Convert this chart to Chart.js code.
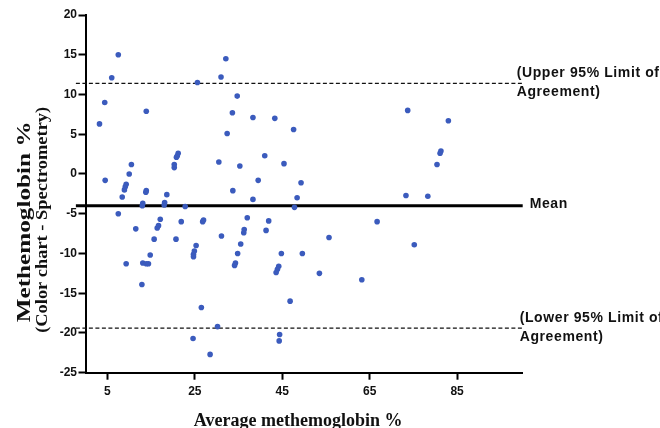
<!DOCTYPE html>
<html><head><meta charset="utf-8">
<script src="https://cdn.jsdelivr.net/npm/chart.js@4"></script>
<style>html,body{margin:0;padding:0;background:#fff}</style>
</head><body>
<canvas id="c" width="660" height="428"></canvas>
<script>
// ---- data ----
const avgMet = [7.5,6.0,25.6,31.0,32.1,4.4,3.2,13.9,34.7,33.6,38.3,43.3,32.4,21.2,21.0,20.8,20.3,20.3,10.5,10.0,
  4.5,9.3,9.1,8.9,8.4,13.9,13.8,18.6,13.1,13.0,18.1,18.0,22.8,7.5,17.1,16.7,16.4,11.5,21.9,26.8,
  27.0,15.7,20.7,25.3,24.9,24.7,24.7,14.8,9.3,13.1,13.9,14.4,12.9,26.5,30.2,24.6,28.5,41.0,30.5,35.3,
  45.4,39.5,49.3,33.7,38.3,48.4,47.8,37.0,41.9,41.3,36.3,36.2,31.1,35.5,34.8,34.3,34.1,44.8,49.6,44.2,
  43.9,43.6,44.4,44.3,47.6,46.8,53.5,55.7,63.2,66.7,73.3,78.3,75.2,73.7,83.0,81.3,81.1,80.4];
const diffMet = [15.0,12.1,11.5,12.2,14.5,9.0,6.3,7.9,9.8,7.7,7.1,7.0,5.1,2.6,2.3,2.1,1.2,0.8,1.2,0.0,
  -0.8,-1.3,-1.6,-2.0,-2.9,-2.1,-2.3,-2.6,-3.7,-4.0,-3.6,-3.9,-4.1,-5.0,-5.7,-6.5,-6.8,-6.9,-6.0,-6.0,
  -5.8,-8.2,-8.2,-9.0,-9.7,-10.1,-10.4,-10.2,-11.3,-11.2,-11.3,-11.3,-13.9,-16.8,-19.2,-20.7,-22.7,2.3,1.5,1.0,
  1.3,-0.8,-1.1,-2.1,-3.2,-3.0,-4.2,-5.5,-5.9,-7.1,-7.0,-7.4,-7.8,-8.8,-10.0,-11.2,-11.5,-10.0,-10.0,-11.6,
  -12.0,-12.4,-20.2,-21.0,5.6,-16.0,-12.5,-8.0,-13.3,-6.0,-2.7,-2.8,-8.9,8.0,6.7,2.9,2.6,1.2];
const meanDiff = -4.0;
const upperLoA = 11.4;
const lowerLoA = -19.4;
const refLineSpan = [-2.2, 100];
const xRange = [0, 100];
const yRange = [-25, 20];
const xTickValues = [5, 25, 45, 65, 85];
const yTickValues = [-25, -20, -15, -10, -5, 0, 5, 10, 15, 20];
const xTitle = 'Average methemoglobin %';
const yTitleLines = ['Methemoglobin %', '(Color chart - Spectrometry)'];
const upperLabel = ['(Upper 95% Limit of', 'Agreement)'];
const lowerLabel = ['(Lower 95% Limit of', 'Agreement)'];
const meanLabel = 'Mean';

// ---- build ----
const points = avgMet.map((v, i) => ({x: v, y: diffMet[i]}));
const hline = v => refLineSpan.map(x => ({x, y: v}));

function stretchedText(ctx, text, cx, cy, font, targetLen) {
  ctx.save();
  ctx.font = font;
  const w = ctx.measureText(text).width;
  ctx.translate(cx, cy);
  ctx.rotate(-Math.PI / 2);
  ctx.scale(targetLen / w, 1);
  ctx.textAlign = 'center';
  ctx.textBaseline = 'middle';
  ctx.fillText(text, 0, 0);
  ctx.restore();
}

const textPlugin = {
  id: 'texts',
  afterDraw(chart) {
    const {ctx, chartArea: a, scales: {y}} = chart;
    ctx.save();
    ctx.fillStyle = '#111';
    ctx.textBaseline = 'middle';
    // limit labels
    ctx.font = 'bold 14px "Liberation Sans", Arial, sans-serif';
    ctx.letterSpacing = '0.6px';
    ctx.textAlign = 'left';
    const yu = y.getPixelForValue(upperLoA);
    ctx.fillText(upperLabel[0], a.right - 6, yu - 10);
    ctx.fillText(upperLabel[1], a.right - 6, yu + 8.5);
    const yl = y.getPixelForValue(lowerLoA);
    ctx.fillText(lowerLabel[0], a.right - 3, yl - 10);
    ctx.fillText(lowerLabel[1], a.right - 3, yl + 9);
    const ym = y.getPixelForValue(meanDiff);
    ctx.fillText(meanLabel, a.right + 7, ym - 2);
    // x title
    ctx.letterSpacing = '0px';
    ctx.textAlign = 'center';
    ctx.font = 'bold 18px "Liberation Serif", "Times New Roman", serif';
    ctx.fillText(xTitle, (a.left + a.right) / 2 - 6, 421);
    // y title (two lines)
    const cy = (a.top + a.bottom) / 2 + 27;
    stretchedText(ctx, yTitleLines[0], 25, cy + 1, 'bold 19px "Liberation Serif", "Times New Roman", serif', 201);
    stretchedText(ctx, yTitleLines[1], 43, cy - 1, 'bold 16px "Liberation Serif", "Times New Roman", serif', 226);
    ctx.restore();
  }
};

const tickFont = {family: '"Liberation Sans", Arial, sans-serif', weight: 'bold', size: 12};

new Chart(document.getElementById('c'), {
  type: 'scatter',
  data: {
    datasets: [
      {data: points, backgroundColor: '#3b5bbd', borderWidth: 0, pointRadius: 2.8, pointHoverRadius: 2.8},
      {type: 'line', data: hline(meanDiff), borderColor: '#000', borderWidth: 3, pointRadius: 0, clip: false, fill: false},
      {type: 'line', data: hline(upperLoA), borderColor: '#111', borderWidth: 1.3, borderDash: [4, 2.5], pointRadius: 0, clip: false, fill: false},
      {type: 'line', data: hline(lowerLoA), borderColor: '#111', borderWidth: 1.3, borderDash: [4, 2.5], pointRadius: 0, clip: false, fill: false}
    ]
  },
  options: {
    responsive: false,
    animation: false,
    devicePixelRatio: 1,
    layout: {padding: {top: 15, right: 137.3, left: 0, bottom: 0}},
    plugins: {legend: {display: false}, tooltip: {enabled: false}},
    scales: {
      x: {
        type: 'linear', min: xRange[0], max: xRange[1],
        afterBuildTicks: s => { s.ticks = xTickValues.map(v => ({value: v})); },
        afterFit: s => { s.height = 55.3; },
        ticks: {font: tickFont, color: '#111', padding: 5, maxRotation: 0, autoSkip: false},
        grid: {display: true, drawOnChartArea: false, drawTicks: true, tickLength: 7, tickWidth: 2, tickColor: '#000'},
        border: {display: true, color: '#000', width: 2}
      },
      y: {
        type: 'linear', min: yRange[0], max: yRange[1],
        afterBuildTicks: s => { s.ticks = yTickValues.map(v => ({value: v})); },
        afterFit: s => { s.width = 85.5; },
        ticks: {font: tickFont, color: '#111', padding: 1.5, autoSkip: false},
        grid: {display: true, drawOnChartArea: false, drawTicks: true, tickLength: 7, tickWidth: 2, tickColor: '#000'},
        border: {display: true, color: '#000', width: 2}
      }
    }
  },
  plugins: [textPlugin]
});
</script>
</body></html>
